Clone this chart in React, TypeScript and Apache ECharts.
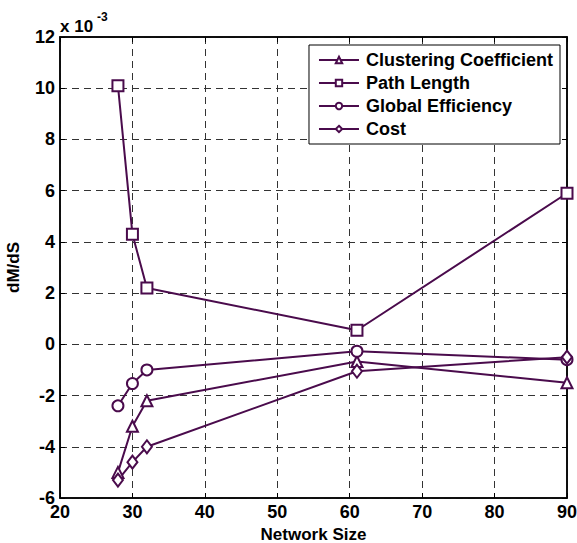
import React, { useEffect, useRef } from "react";
import * as echarts from "echarts";

const networkSize = [28, 30, 32, 61, 90];
const clustering = [-5.0, -3.2, -2.2, -0.67, -1.5];
const pathLength = [10.1, 4.3, 2.2, 0.55, 5.9];
const globalEff = [-2.4, -1.53, -1.0, -0.27, -0.6];
const cost = [-5.3, -4.6, -4.0, -1.05, -0.5];

const names = ["Clustering Coefficient", "Path Length", "Global Efficiency", "Cost"];
const symbols = ["triangle", "rect", "circle", "diamond"];
const values = [clustering, pathLength, globalEff, cost];

const COLOR = "#4a0b4c";
const FONT = "Liberation Sans, Arial, sans-serif";

export default function App() {
  const ref = useRef<HTMLDivElement>(null);
  useEffect(() => {
    const chart = echarts.init(ref.current!, null, { renderer: "svg" });
    const gridLine = { show: true, lineStyle: { color: "#333", type: [7, 5] as any, width: 1 } };
    chart.setOption({
      animation: false,
      backgroundColor: "#fff",
      grid: {
        left: 60, right: 10, top: 37, bottom: 45, show: true, borderColor: "#000", borderWidth: 1.5,
        backgroundColor: "transparent", containLabel: false, outerBoundsMode: "none",
      },
      legend: {
        data: names,
        orient: "vertical",
        right: 17,
        top: 45,
        backgroundColor: "#fff",
        borderColor: "#000",
        borderWidth: 1,
        borderRadius: 0,
        padding: [6, 7, 6, 9],
        itemWidth: 40,
        itemHeight: 8,
        itemGap: 5,
        textStyle: { fontFamily: FONT, fontWeight: "bold", fontSize: 18, color: "#000", padding: [0, 0, 0, 2] },
      },
      xAxis: [
        {
          type: "value", min: 20, max: 90, interval: 10,
          name: "Network Size", nameLocation: "middle", nameGap: 28,
          nameTextStyle: { fontFamily: FONT, fontWeight: "bold", fontSize: 17, color: "#000" },
          axisLine: { show: true, onZero: false, lineStyle: { color: "#000", width: 1.5 } },
          axisTick: { show: true, inside: true, length: 5, lineStyle: { color: "#000" } },
          axisLabel: { fontFamily: FONT, fontWeight: "bold", fontSize: 18, color: "#000", margin: 5 },
          splitLine: gridLine,
        },
        {
          type: "value", min: 20, max: 90, interval: 10, position: "top",
          axisLine: { show: true, onZero: false, lineStyle: { color: "#000", width: 1.5 } },
          axisTick: { show: true, inside: true, length: 5, lineStyle: { color: "#000" } },
          axisLabel: { show: false }, splitLine: { show: false },
        },
      ],
      yAxis: [
        {
          type: "value", min: -6, max: 12, interval: 2,
          name: "dM/dS", nameLocation: "middle", nameGap: 38,
          nameTextStyle: { fontFamily: FONT, fontWeight: "bold", fontSize: 17, color: "#000" },
          axisLine: { show: true, onZero: false, lineStyle: { color: "#000", width: 1.5 } },
          axisTick: { show: true, inside: true, length: 5, lineStyle: { color: "#000" } },
          axisLabel: { fontFamily: FONT, fontWeight: "bold", fontSize: 18, color: "#000", margin: 5 },
          splitLine: gridLine,
        },
        {
          type: "value", min: -6, max: 12, interval: 2, position: "right",
          axisLine: { show: true, onZero: false, lineStyle: { color: "#000", width: 1.5 } },
          axisTick: { show: true, inside: true, length: 5, lineStyle: { color: "#000" } },
          axisLabel: { show: false }, splitLine: { show: false },
        },
      ],
      graphic: [
        {
          type: "text", left: 60, top: 18,
          style: { text: "x 10", fontFamily: FONT, fontWeight: "bold", fontSize: 17, fill: "#000" },
        },
        {
          type: "text", left: 97, top: 11,
          style: { text: "-3", fontFamily: FONT, fontWeight: "bold", fontSize: 12, fill: "#000" },
        },
      ],
      series: names.map((n, i) => ({
        name: n,
        type: "line",
        data: networkSize.map((x, j) => [x, values[i][j]]),
        symbol: symbols[i],
        symbolSize: symbols[i] === "diamond" ? [10, 13] : 11,
        showSymbol: true,
        color: COLOR,
        lineStyle: { color: COLOR, width: 2 },
        itemStyle: { color: "#fff", borderColor: COLOR, borderWidth: 2 },
        z: 3,
      })),
    });
    return () => chart.dispose();
  }, []);
  return <div ref={ref} style={{ width: 577, height: 543, position: "absolute", left: 0, top: 0 }} />;
}
